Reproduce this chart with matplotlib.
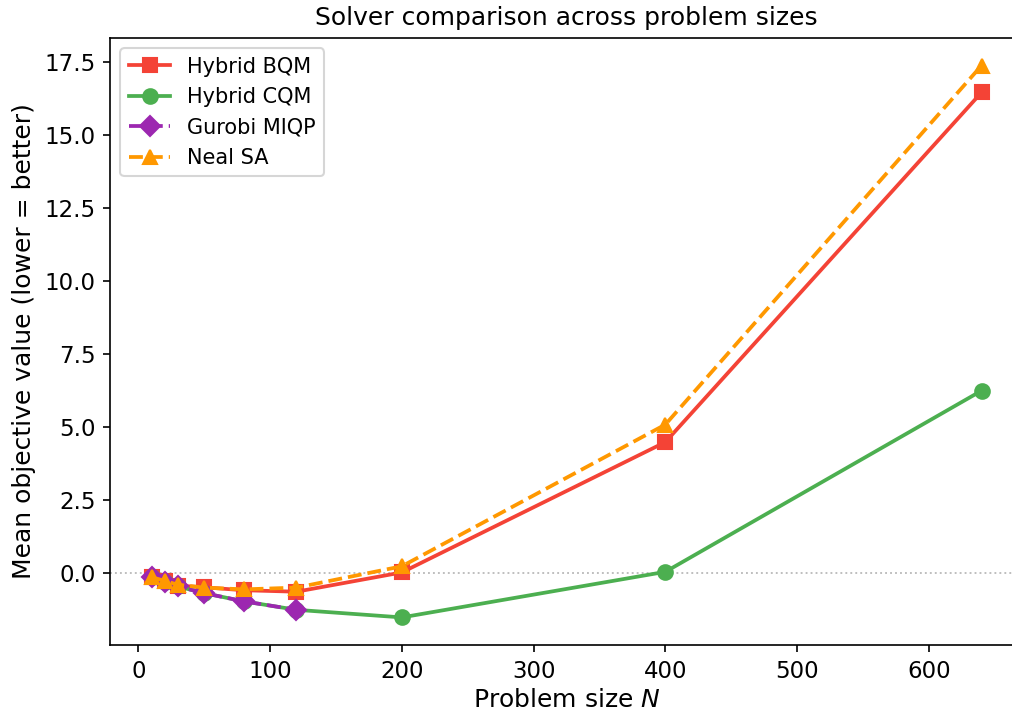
import matplotlib
matplotlib.use("Agg")
import matplotlib.pyplot as plt

# problem sizes
sizes = [10, 20, 30, 50, 80, 120, 200, 400, 640]
gurobi_sizes = [10, 20, 30, 50, 80, 120]

# mean objective values
bqm = [-0.13, -0.30, -0.44, -0.50, -0.60, -0.65, 0.01, 4.47, 16.44]
cqm = [-0.13, -0.33, -0.47, -0.70, -0.98, -1.27, -1.53, 0.03, 6.23]
gurobi = [-0.13, -0.33, -0.47, -0.70, -0.98, -1.27]
neal = [-0.15, -0.28, -0.41, -0.51, -0.57, -0.51, 0.22, 5.07, 17.36]

dpi = 150
fig = plt.figure(figsize=(1012 / dpi, 711 / dpi), dpi=dpi)
# axes run slightly past the right edge, as in the reference
ax = fig.add_axes([110 / 1012, 66 / 711, 913 / 1012, 607 / 711])

ax.axhline(0, color="#bbbbbb", linestyle=":", linewidth=0.9, zorder=0)

ax.plot(sizes, bqm, color="#f44336", marker="s", markersize=7, linewidth=1.8, label="Hybrid BQM")
ax.plot(sizes, cqm, color="#4caf50", marker="o", markersize=7, linewidth=1.8, label="Hybrid CQM")
ax.plot(gurobi_sizes, gurobi, color="#9c27b0", marker="D", markersize=7, linewidth=1.8,
        linestyle="--", label="Gurobi MIQP")
ax.plot(sizes, neal, color="#ff9800", marker="^", markersize=7, linewidth=1.8,
        linestyle="--", label="Neal SA")

ax.set_xlabel("Problem size $N$", fontsize=12, labelpad=2.5)
ax.set_ylabel("Mean objective value (lower = better)", fontsize=12)
ax.set_title("Solver comparison across problem sizes", fontsize=12)
ax.tick_params(labelsize=11)
ax.legend(loc="upper left", fontsize=10)

plt.savefig("out.png", dpi=dpi)
